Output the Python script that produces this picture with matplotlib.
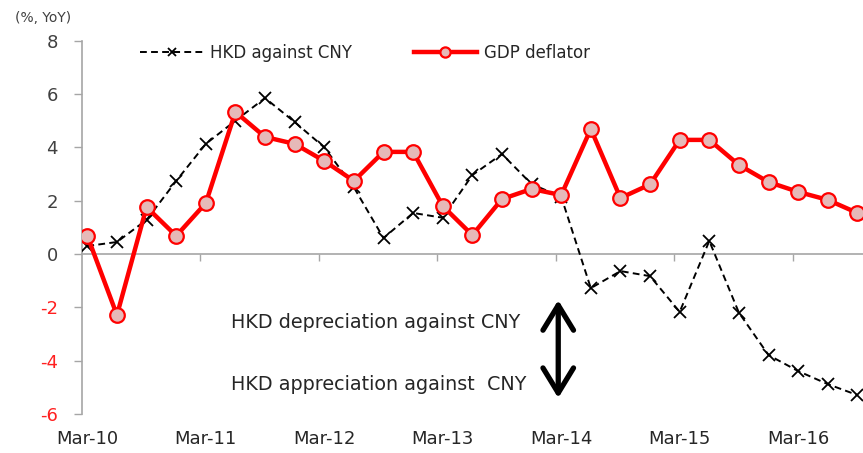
import matplotlib
matplotlib.use("Agg")
import matplotlib.pyplot as plt
from matplotlib.ticker import FixedLocator, NullFormatter

# quarterly, Mar-10 .. Sep-16
quarters = list(range(27))
year_labels = ["Mar-10", "Mar-11", "Mar-12", "Mar-13", "Mar-14", "Mar-15", "Mar-16"]
hkd_cny = [0.30, 0.45, 1.28, 2.74, 4.13, 5.00, 5.85, 4.95, 4.00, 2.50, 0.60, 1.54, 1.36,
           2.96, 3.75, 2.62, 2.15, -1.28, -0.64, -0.83, -2.17, 0.49, -2.20, -3.79, -4.39,
           -4.88, -5.29]
gdp_deflator = [0.68, -2.29, 1.76, 0.68, 1.91, 5.33, 4.39, 4.13, 3.49, 2.74, 3.83, 3.83,
                1.80, 0.71, 2.06, 2.44, 2.21, 4.69, 2.10, 2.61, 4.28, 4.28, 3.34, 2.70,
                2.33, 2.03, 1.54]
y_ticks = list(range(-6, 9, 2))

plt.rcParams["font.family"] = ["DejaVu Sans"]
fig = plt.figure(figsize=(8.63, 4.53), dpi=100)
ax = fig.add_axes([82 / 863, 1 - 414 / 453, 1 - 82 / 863, (414 - 40.7) / 453])

ax.plot(quarters, hkd_cny, color="black", ls=(0, (3.5, 2.2)), lw=1.4, marker="x",
        ms=8, mew=1.3, label="HKD against CNY", zorder=3)
ax.plot(quarters, gdp_deflator, color="#ff0000", lw=3.2, marker="o", ms=10.5,
        mfc="#e6b9b8", mec="#ff0000", mew=1.6, label="GDP deflator", zorder=4)

ax.set_xlim(-0.18, 26.19)
ax.set_ylim(-6, 8)

# y axis: negatives in red
ax.set_yticks(y_ticks)
ax.set_yticklabels([str(v) for v in y_ticks])
ax.tick_params(axis="y", direction="out", length=5.5, width=1, color="#a6a6a6",
               pad=12, labelsize=13)
for t, v in zip(ax.get_yticklabels(), y_ticks):
    t.set_color("#ff2020" if v < 0 else "#404040")

# x axis on the zero line, labels at the bottom
ax.spines["bottom"].set_position(("data", 0))
for s in ("top", "right"):
    ax.spines[s].set_visible(False)
for s in ("left", "bottom"):
    ax.spines[s].set_color("#a6a6a6")
    ax.spines[s].set_linewidth(1.2)
ax.xaxis.set_major_locator(FixedLocator([4 * k - 0.18 for k in range(1, 7)]))
ax.xaxis.set_major_formatter(NullFormatter())
ax.xaxis.set_minor_locator(FixedLocator([4 * k for k in range(7)]))
ax.set_xticklabels(year_labels, minor=True)
ax.tick_params(axis="x", which="major", direction="out", length=5, width=1, color="#a6a6a6")
ax.tick_params(axis="x", which="minor", length=0, pad=127, labelsize=13, labelcolor="#262626")

fig.text(15 / 863, 1 - 18 / 453, "(%, YoY)", fontsize=10, color="#404040", va="center")

ax.legend(loc="center left", bbox_to_anchor=(140 / 863, 1 - 53 / 453),
          bbox_transform=fig.transFigure, ncol=2, frameon=False, fontsize=12,
          handlelength=3.8, handletextpad=0.4, columnspacing=3.7, borderpad=0,
          borderaxespad=0, labelcolor="#262626", markerscale=0.7)

ax.text(4.85, -2.55, "HKD depreciation against CNY", fontsize=13.8, color="#262626",
        va="center", ha="left")
ax.text(4.85, -4.91, "HKD appreciation against  CNY", fontsize=13.8, color="#262626",
        va="center", ha="left")
ax.annotate("", xy=(15.9, -1.73), xytext=(15.9, -5.4),
            arrowprops=dict(arrowstyle="<->,head_length=0.9,head_width=0.55",
                            lw=3.8, color="black", shrinkA=0, shrinkB=0,
                            mutation_scale=20, capstyle="round", joinstyle="round"))

fig.savefig("out.png", dpi=100)
